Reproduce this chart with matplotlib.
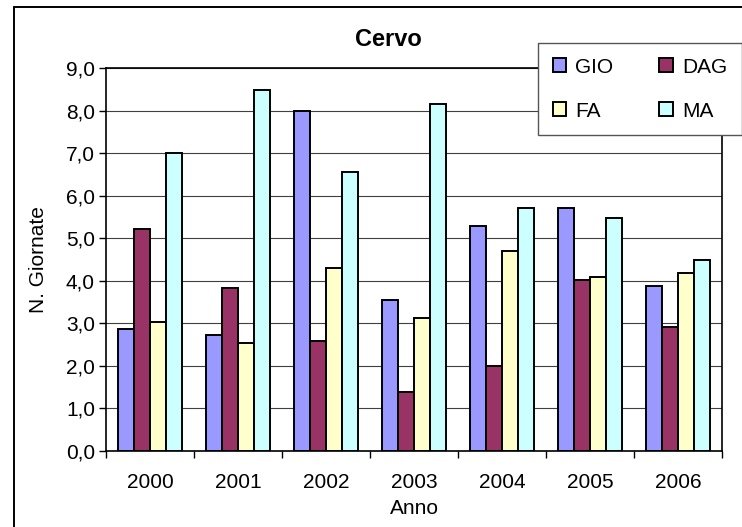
import numpy as np
import matplotlib.pyplot as plt
from matplotlib.patches import Rectangle
from matplotlib.ticker import FuncFormatter

plt.rcParams['font.family'] = ['Liberation Sans', 'DejaVu Sans']

# dati
anni = ['2000', '2001', '2002', '2003', '2004', '2005', '2006']
gio = [2.86, 2.73, 7.99, 3.55, 5.29, 5.72, 3.87]
dag = [5.21, 3.84, 2.58, 1.38, 2.0, 4.01, 2.91]
fa = [3.04, 2.54, 4.29, 3.13, 4.71, 4.10, 4.19]
ma = [7.01, 8.48, 6.55, 8.16, 5.71, 5.48, 4.48]

serie = ['GIO', 'DAG', 'FA', 'MA']
colori = ['#9999FF', '#993366', '#FFFFCC', '#CCFFFF']

fig = plt.figure(figsize=(7.42, 5.27), dpi=100)
ax = fig.add_axes([106/742, 1 - 451/527, 616/742, 383/527])

x = np.arange(len(anni))
w = 0.182
barre = []
for i, (valori, nome) in enumerate(zip([gio, dag, fa, ma], serie)):
    b = ax.bar(x + (i - 1.5) * w, valori, w, color=colori[i], edgecolor='black',
               linewidth=1.4, label=nome, zorder=3)
    barre.append(b)

ax.set_xlim(-0.5, len(anni) - 0.5)
ax.set_ylim(0, 9)
ax.set_yticks(np.arange(0, 9.1, 1))
ax.yaxis.set_major_formatter(FuncFormatter(lambda v, p: f'{v:.1f}'.replace('.', ',')))
ax.grid(axis='y', color='#404040', linewidth=0.8, zorder=0)

# tacche tra le categorie, etichette al centro
ax.set_xticks(np.arange(-0.5, len(anni), 1))
ax.set_xticklabels([])
ax.set_xticks(x, minor=True)
ax.set_xticklabels(anni, minor=True)
ax.tick_params(axis='x', which='minor', length=0, pad=16, labelsize=15)
ax.tick_params(axis='x', which='major', length=5, width=1, direction='out')
ax.tick_params(axis='y', length=5, width=1, pad=3, labelsize=15)

for s in ax.spines.values():
    s.set_linewidth(1.2)
    s.set_color('black')

ax.set_xlabel('Anno', fontsize=15, labelpad=5)
ax.set_ylabel('N. Giornate', fontsize=15, labelpad=13)
fig.text(388/742, 1 - 40/527, 'Cervo', fontsize=17, fontweight='bold',
         ha='center', va='center')

# ordine per righe: GIO DAG / FA MA
ordine = [0, 2, 1, 3]
fig.legend([barre[i] for i in ordine], [serie[i] for i in ordine],
           loc='upper left', bbox_to_anchor=(538/742, 1 - 43/527), ncol=2,
           fontsize=15, frameon=True, fancybox=False, edgecolor='#555555',
           framealpha=1, handlelength=0.65, handleheight=0.65, handletextpad=0.45,
           columnspacing=2.2, labelspacing=1.2, borderpad=0.7, borderaxespad=0)

fig.add_artist(Rectangle((14/742, -0.1), 1.2, 1.1 - 7/527, transform=fig.transFigure,
                         fill=False, edgecolor='black', linewidth=1.4))

fig.savefig('out.png', dpi=100)
